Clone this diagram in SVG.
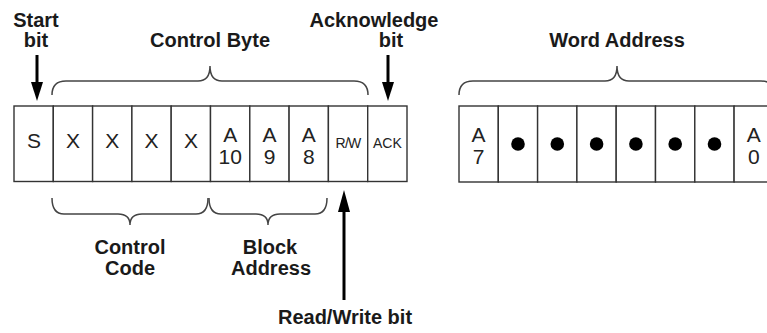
<svg xmlns="http://www.w3.org/2000/svg" width="767" height="333" viewBox="0 0 767 333">
<style>
.lbl{font-family:"Liberation Sans",Arial,sans-serif;font-weight:bold;font-size:20px;fill:#1a1a1a;text-anchor:middle}
.cell{fill:#fff;stroke:#333;stroke-width:1.4}
.ct{font-family:"Liberation Sans",Arial,sans-serif;font-size:21px;fill:#222;text-anchor:middle}
.sm{font-family:"Liberation Sans",Arial,sans-serif;font-size:14px;fill:#222;text-anchor:middle}
.brace{fill:none;stroke:#444;stroke-width:1.5}
.shaft{stroke:#000;stroke-width:3}
</style>
<rect width="767" height="333" fill="#fff"/>
<g id="control-byte-cells">
<rect class="cell" x="14" y="106" width="39.3" height="75.5"/>
<rect class="cell" x="53.3" y="106" width="39.3" height="75.5"/>
<rect class="cell" x="92.6" y="106" width="39.3" height="75.5"/>
<rect class="cell" x="131.9" y="106" width="39.3" height="75.5"/>
<rect class="cell" x="171.2" y="106" width="39.3" height="75.5"/>
<rect class="cell" x="210.5" y="106" width="39.3" height="75.5"/>
<rect class="cell" x="249.8" y="106" width="39.3" height="75.5"/>
<rect class="cell" x="289.1" y="106" width="39.3" height="75.5"/>
<rect class="cell" x="328.4" y="106" width="39.3" height="75.5"/>
<rect class="cell" x="367.7" y="106" width="39.3" height="75.5"/>
<text class="ct" x="34" y="148">S</text>
<text class="ct" x="73" y="148">X</text>
<text class="ct" x="112.3" y="148">X</text>
<text class="ct" x="151.6" y="148">X</text>
<text class="ct" x="190.9" y="148">X</text>
<text class="ct" x="230.2" y="142">A</text>
<text class="ct" x="230.2" y="164">10</text>
<text class="ct" x="269.5" y="142">A</text>
<text class="ct" x="269.5" y="164">9</text>
<text class="ct" x="308.8" y="142">A</text>
<text class="ct" x="308.8" y="164">8</text>
<text class="sm" x="348" y="148" letter-spacing="-0.8">R/W</text>
<text class="sm" x="387.4" y="148">ACK</text>
</g>
<g id="word-address-cells">
<rect class="cell" x="459" y="106" width="39.3" height="76"/>
<rect class="cell" x="498.3" y="106" width="39.3" height="76"/>
<rect class="cell" x="537.6" y="106" width="39.3" height="76"/>
<rect class="cell" x="576.9" y="106" width="39.3" height="76"/>
<rect class="cell" x="616.2" y="106" width="39.3" height="76"/>
<rect class="cell" x="655.5" y="106" width="39.3" height="76"/>
<rect class="cell" x="694.8" y="106" width="39.3" height="76"/>
<rect class="cell" x="734.1" y="106" width="39.3" height="76"/>
<text class="ct" x="478.6" y="142">A</text>
<text class="ct" x="478.6" y="164">7</text>
<circle cx="518" cy="144" r="6.8" fill="#000"/>
<circle cx="557.3" cy="144" r="6.8" fill="#000"/>
<circle cx="596.6" cy="144" r="6.8" fill="#000"/>
<circle cx="635.9" cy="144" r="6.8" fill="#000"/>
<circle cx="675.2" cy="144" r="6.8" fill="#000"/>
<circle cx="714.5" cy="144" r="6.8" fill="#000"/>
<text class="ct" x="753.8" y="142">A</text>
<text class="ct" x="753.8" y="164">0</text>
</g>
<g id="labels">
<text class="lbl" x="36" y="27">Start</text>
<text class="lbl" x="36" y="47">bit</text>
<text class="lbl" x="210" y="47">Control Byte</text>
<text class="lbl" x="374" y="27">Acknowledge</text>
<text class="lbl" x="391" y="47">bit</text>
<text class="lbl" x="617" y="47">Word Address</text>
<text class="lbl" x="130" y="254">Control</text>
<text class="lbl" x="130" y="275">Code</text>
<text class="lbl" x="270" y="254">Block</text>
<text class="lbl" x="271" y="275">Address</text>
<text class="lbl" x="345" y="324">Read/Write bit</text>
</g>
<g id="connectors">
<path class="brace" d="M52,95 Q52,81 66,81 L198,81 Q210,81 210,66 Q210,81 222,81 L354,81 Q368,81 368,95"/>
<path class="brace" d="M459,95 Q459,81 473,81 L605,81 Q617,81 617,66 Q617,81 629,81 L761,81 Q775,81 775,95"/>
<path class="brace" d="M52,198 Q52,214 64,214 L118,214 Q130,214 130,225 Q130,214 142,214 L196,214 Q208,214 208,198"/>
<path class="brace" d="M209,198 Q209,214 221,214 L256,214 Q268,214 268,225 Q268,214 280,214 L315,214 Q327,214 327,198"/>
<line class="shaft" x1="37" y1="55" x2="37" y2="84"/>
<polygon points="31,82 43,82 37,101" fill="#000"/>
<line class="shaft" x1="388" y1="55" x2="388" y2="84"/>
<polygon points="382,82 394,82 388,101" fill="#000"/>
<line class="shaft" x1="344" y1="300" x2="344" y2="210"/>
<polygon points="338,212 350,212 344,190" fill="#000"/>
</g>
</svg>
